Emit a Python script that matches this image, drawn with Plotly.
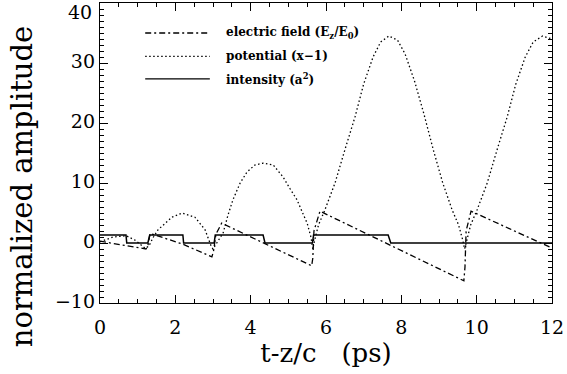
import plotly.graph_objects as go

# ---- data ----
field_x = [0.0, 1.22, 1.27, 1.33, 2.2, 2.97, 3.01, 3.08, 3.23, 5.62, 5.65, 5.68, 5.84, 9.66, 9.69, 9.72, 9.85, 11.95]
field_y = [0.3, -1.0, -0.5, 1.6, -0.2, -2.3, -1.5, 1.5, 3.3, -3.8, -2.5, 2.0, 5.3, -6.3, -4.0, 2.0, 5.3, -0.7]

pot_x = [0.0, 0.35, 0.7, 0.95, 1.2, 1.3, 1.4, 1.54, 1.91, 2.18, 2.52, 2.79, 2.95, 3.0,
         3.1, 3.27, 3.4, 3.53, 3.72, 3.9, 4.11, 4.33, 4.6, 4.86, 5.05, 5.23, 5.38, 5.5, 5.6, 5.65,
         5.7, 5.8, 5.97, 6.24, 6.5, 6.77, 7.0, 7.25, 7.45, 7.67, 7.9, 8.1, 8.35, 8.6, 8.85, 9.1, 9.35, 9.52, 9.63, 9.68,
         9.74, 9.84, 10.01, 10.28, 10.54, 10.81, 11.04, 11.29, 11.5, 11.75, 12.0]
pot_y = [0.2, 1.0, 1.2, 0.4, -0.9, -0.5, 0.8, 2.2, 4.3, 5.0, 4.3, 2.2, -0.5, -1.0,
         0.0, 1.7, 4.7, 7.2, 10.0, 11.8, 13.0, 13.3, 13.0, 11.0, 9.0, 7.2, 5.0, 3.3, 1.0, -1.0,
         0.5, 3.0, 5.5, 10.0, 15.5, 21.0, 26.5, 31.0, 33.5, 34.5, 33.8, 31.5, 27.0, 21.5, 15.5, 10.0, 5.5, 3.0, 0.5, -1.0,
         0.5, 3.0, 5.5, 10.0, 15.5, 21.0, 26.5, 31.0, 33.5, 34.5, 34.0]

int_x = [0.0, 0.69, 0.71, 1.27, 1.32, 2.2, 2.22, 3.03, 3.06, 4.33, 4.38, 5.64, 5.67, 7.65, 7.72, 12.0]
int_y = [1.33, 1.33, 0.0, 0.0, 1.33, 1.33, 0.0, 0.0, 1.33, 1.33, 0.0, 0.0, 1.33, 1.33, 0.0, 0.0]

x_ticks = [0, 2, 4, 6, 8, 10, 12]
y_ticks = [-10, 0, 10, 20, 30, 40]
y_ticklabels = ["\u221210", "0", "10", "20", "30", "40"]

legend_labels = ["electric field (E<sub>z</sub>/E<sub>0</sub>)", "potential (x\u22121)", "intensity (a<sup>2</sup>)"]
x_title = "t-z/c   (ps)"
y_title = "normalized amplitude"

FONT = "DejaVu Serif"
DASHDOT = "6px,3px,2px,3px"
DOT = "1.5px,2.5px"
TICKFONT = dict(family=FONT, size=19, color="black")

fig = go.Figure()
fig.add_trace(go.Scatter(x=field_x, y=field_y, mode="lines",
                         line=dict(color="black", width=1.3, dash=DASHDOT), showlegend=False))
fig.add_trace(go.Scatter(x=pot_x, y=pot_y, mode="lines",
                         line=dict(color="black", width=1.3, dash=DOT), showlegend=False))
fig.add_trace(go.Scatter(x=int_x, y=int_y, mode="lines",
                         line=dict(color="black", width=1.5), showlegend=False))

# manual legend
styles = [DASHDOT, DOT, "solid"]
ys = [0.9, 0.822, 0.747]
for lab, st, yy in zip(legend_labels, styles, ys):
    fig.add_shape(type="line", xref="paper", yref="paper", x0=0.10, x1=0.243, y0=yy, y1=yy,
                  line=dict(color="black", width=1.3, dash=st))
    fig.add_annotation(xref="paper", yref="paper", x=0.275, y=yy, text="<b>" + lab + "</b>",
                       showarrow=False, xanchor="left", yanchor="middle",
                       font=dict(family=FONT, size=12, color="black"))

# top y tick label (nudged down, as in the reference)
fig.add_annotation(xref="paper", yref="y", x=0, y=y_ticks[-1], text=y_ticklabels[-1],
                   showarrow=False, xanchor="right", yanchor="middle", xshift=-6, yshift=-9,
                   font=TICKFONT)

# y-axis title placed like the reference (extends below the plot area)
fig.add_annotation(xref="paper", yref="paper", x=-0.172, y=0.39, text=y_title, textangle=-90,
                   showarrow=False, xanchor="center", yanchor="middle",
                   font=dict(family=FONT, size=29, color="black"))

axis_common = dict(showgrid=False, zeroline=False, showline=True, linecolor="black", linewidth=1.3,
                   mirror="ticks", ticks="inside", ticklen=8, tickwidth=1.2, tickcolor="black",
                   tickfont=TICKFONT)

fig.update_xaxes(range=[0, 12], tickvals=x_ticks, ticktext=[str(v) for v in x_ticks],
                 ticklabelstandoff=7,
                 minor=dict(dtick=0.5, ticks="inside", ticklen=4, tickcolor="black", tickwidth=1),
                 title=dict(text=x_title, font=dict(family=FONT, size=26, color="black"), standoff=4),
                 **axis_common)
fig.update_yaxes(range=[-10, 40], tickvals=y_ticks, ticktext=y_ticklabels[:-1] + [""],
                 ticklabelshift=-2,
                 minor=dict(dtick=1, ticks="inside", ticklen=4, tickcolor="black", tickwidth=1),
                 **axis_common)

fig.update_layout(width=567, height=374, margin=dict(l=100, r=15, t=3, b=71),
                  plot_bgcolor="white", paper_bgcolor="white")

fig.write_html("out.html")
